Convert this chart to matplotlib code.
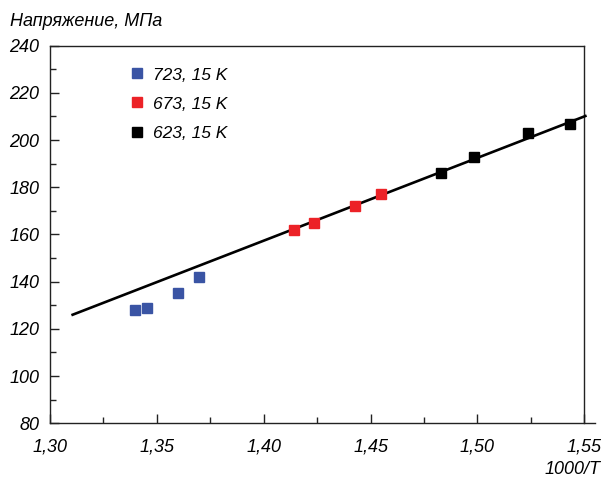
import matplotlib
matplotlib.use("Agg")
from matplotlib import pyplot as plt
from matplotlib.ticker import MultipleLocator, FuncFormatter

plt.rcParams['font.family'] = ['Liberation Sans', 'DejaVu Sans']
plt.rcParams['font.style'] = 'italic'

# 1000/T и напряжение, МПа
x_723 = [1.340, 1.3455, 1.360, 1.3695]
y_723 = [128.0, 129.0, 135.0, 142.0]
x_673 = [1.414, 1.4235, 1.4425, 1.455]
y_673 = [162.0, 165.0, 172.0, 177.0]
x_623 = [1.483, 1.4985, 1.5235, 1.5435]
y_623 = [186.0, 193.0, 203.0, 207.0]
fit_x = [1.3106, 1.5505]
fit_y = [126.0, 210.2]
labels = ["723, 15 K", "673, 15 K", "623, 15 K"]
colors = ["#3a54a4", "#ec2227", "#000000"]

fig = plt.figure(figsize=(6.08, 4.79), dpi=100)
ax = fig.add_axes([0.0822, 0.1163, 0.8964, 0.7883])

ax.plot(fit_x, fit_y, color="black", lw=1.9, zorder=2)
for xs, ys, lab, c in zip([x_723, x_673, x_623], [y_723, y_673, y_623], labels, colors):
    ax.plot(xs, ys, "s", color=c, ms=7, mec=c, label=lab, zorder=3)

ax.set_xlim(1.30, 1.555)
ax.set_ylim(80, 240)
ax.spines['top'].set_visible(False)
ax.spines['right'].set_visible(False)
for s in ['left', 'bottom']:
    ax.spines[s].set_color('#222222')
    ax.spines[s].set_linewidth(1.0)
# рамка сверху и справа до 1,55
ax.plot([1.30, 1.55], [240, 240], color='#222222', lw=1.0, clip_on=False, zorder=1)
ax.plot([1.55, 1.55], [80, 240], color='#222222', lw=1.0, clip_on=False, zorder=1)

ax.xaxis.set_major_locator(MultipleLocator(0.05))
ax.xaxis.set_minor_locator(MultipleLocator(0.025))
ax.yaxis.set_major_locator(MultipleLocator(20))
ax.yaxis.set_minor_locator(MultipleLocator(10))
ax.xaxis.set_major_formatter(FuncFormatter(lambda v, p: ("%.2f" % v).replace(".", ",")))
ax.yaxis.set_major_formatter(FuncFormatter(lambda v, p: "%d" % v))
ax.tick_params(which='major', direction='in', length=6.5, width=1.0, color='#222222',
               labelsize=13, pad=7.5)
ax.tick_params(which='minor', direction='in', length=4.3, width=1.0, color='#222222')
ax.tick_params(axis='x', which='major', pad=11)

fig.text(0.016, 0.956, "Напряжение, МПа", fontsize=13, style='italic', va='center', ha='left')
fig.text(0.988, 0.002, "1000/T", fontsize=13, style='italic', va='bottom', ha='right')

leg = ax.legend(loc='upper left', bbox_to_anchor=(0.138, 0.961), frameon=False,
                fontsize=12.5, markerscale=0.95, handlelength=0.6, handletextpad=0.6,
                labelspacing=0.8, borderaxespad=0)

fig.savefig("out.png", dpi=100)
